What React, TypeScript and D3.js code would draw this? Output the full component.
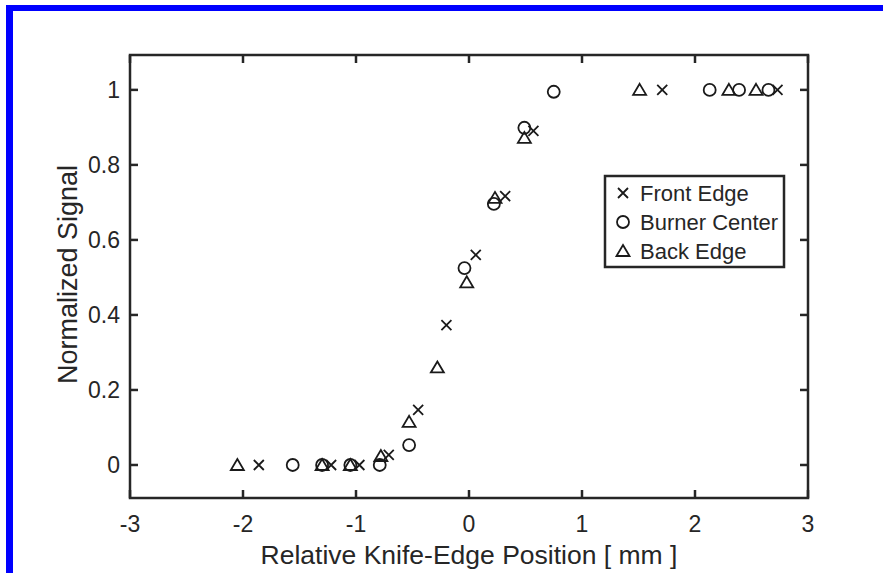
import React, { useRef, useEffect } from "react";
import * as d3 from "d3";

// values
const frontX = [-1.86, -1.22, -0.97, -0.71, -0.45, -0.2, 0.06, 0.32, 0.57, 1.71, 2.73];
const frontY = [0, 0, 0, 0.027, 0.147, 0.373, 0.56, 0.717, 0.891, 1, 1];

const burnerX = [-1.56, -1.3, -1.05, -0.79, -0.53, -0.04, 0.22, 0.49, 0.75, 2.13, 2.39, 2.65];
const burnerY = [0, 0, 0, 0, 0.053, 0.525, 0.696, 0.899, 0.995, 1, 1, 1];

const backX = [-2.05, -1.3, -1.05, -0.78, -0.53, -0.28, -0.02, 0.23, 0.49, 1.51, 2.3, 2.54];
const backY = [0, 0, 0, 0.024, 0.115, 0.26, 0.487, 0.712, 0.872, 1, 1, 1];

const xTicks = [-3, -2, -1, 0, 1, 2, 3];
const yTicks = [0, 0.2, 0.4, 0.6, 0.8, 1];
const seriesNames = ["Front Edge", "Burner Center", "Back Edge"];

const W = 883;
const H = 573;
const FONT = "'Liberation Sans', Arial, Helvetica, sans-serif";
const INK = "#262626";

const App = () => {
  const ref = useRef<SVGSVGElement | null>(null);

  useEffect(() => {
    const svg = d3.select(ref.current);
    svg.selectAll("*").remove();

    const left = 130, right = 808, top = 55, bottom = 498;
    const x = d3.scaleLinear().domain([-3, 3]).range([left, right]);
    const y = d3.scaleLinear().domain([-0.088, 1.093]).range([bottom, top]);

    svg.append("rect").attr("width", W).attr("height", H).attr("fill", "#fff");
    // blue frame (left + top)
    svg.append("rect").attr("x", 6).attr("y", 5).attr("width", 7).attr("height", H).attr("fill", "#0000ff");
    svg.append("rect").attr("x", 6).attr("y", 5).attr("width", W).attr("height", 6).attr("fill", "#0000ff");

    const tl = 8;
    const axes = svg.append("g").attr("stroke", INK).attr("stroke-width", 2.5);
    xTicks.forEach((t) => {
      axes.append("line").attr("x1", x(t)).attr("x2", x(t)).attr("y1", bottom).attr("y2", bottom - tl);
      axes.append("line").attr("x1", x(t)).attr("x2", x(t)).attr("y1", top).attr("y2", top + tl);
    });
    yTicks.forEach((t) => {
      axes.append("line").attr("y1", y(t)).attr("y2", y(t)).attr("x1", left).attr("x2", left + tl);
      axes.append("line").attr("y1", y(t)).attr("y2", y(t)).attr("x1", right).attr("x2", right - tl);
    });
    axes.append("rect")
      .attr("x", left).attr("y", top)
      .attr("width", right - left).attr("height", bottom - top)
      .attr("fill", "none");

    const txt = svg.append("g").attr("font-family", FONT).attr("fill", INK);
    txt.selectAll(".xt").data(xTicks).enter().append("text")
      .attr("x", (d) => x(d)).attr("y", 532)
      .attr("text-anchor", "middle").attr("font-size", 23)
      .text((d) => String(d));
    txt.selectAll(".yt").data(yTicks).enter().append("text")
      .attr("x", 120).attr("y", (d) => y(d)).attr("dy", "0.36em")
      .attr("text-anchor", "end").attr("font-size", 23)
      .text((d) => String(d));
    txt.append("text")
      .attr("x", (left + right) / 2).attr("y", 564)
      .attr("text-anchor", "middle").attr("font-size", 26.5)
      .text("Relative Knife-Edge Position [ mm ]");
    txt.append("text")
      .attr("transform", `translate(77, ${(top + bottom) / 2 - 2}) rotate(-90)`)
      .attr("text-anchor", "middle").attr("font-size", 27)
      .text("Normalized Signal");

    // marker shapes
    const drawMark = (g, kind, cx, cy) => {
      if (kind === 0) {
        const s = 5;
        g.append("path")
          .attr("d", `M${cx - s},${cy - s}L${cx + s},${cy + s}M${cx - s},${cy + s}L${cx + s},${cy - s}`);
      } else if (kind === 1) {
        g.append("circle").attr("cx", cx).attr("cy", cy).attr("r", 6);
      } else {
        g.append("path")
          .attr("d", `M${cx},${cy - 6}L${cx + 6.5},${cy + 5}L${cx - 6.5},${cy + 5}Z`);
      }
    };

    const marks = svg.append("g").attr("fill", "none").attr("stroke", "#1a1a1a").attr("stroke-width", 1.8);
    const series = [
      [frontX, frontY],
      [burnerX, burnerY],
      [backX, backY],
    ];
    series.forEach(([xs, ys], k) => {
      xs.forEach((v, i) => drawMark(marks, k, x(v), y(ys[i])));
    });

    // legend
    const lg = svg.append("g");
    lg.append("rect")
      .attr("x", 605).attr("y", 176).attr("width", 179).attr("height", 91)
      .attr("fill", "#fff").attr("stroke", INK).attr("stroke-width", 2.5);
    seriesNames.forEach((name, k) => {
      const cy = 193 + k * 29;
      const mg = lg.append("g").attr("fill", "none").attr("stroke", "#1a1a1a").attr("stroke-width", 1.8);
      drawMark(mg, k, 623, cy);
      lg.append("text")
        .attr("x", 640).attr("y", cy).attr("dy", "0.36em")
        .attr("font-family", FONT).attr("font-size", 22).attr("fill", INK)
        .text(name);
    });
  }, []);

  return (
    <div style={{ position: "absolute", left: 0, top: 0 }}>
      <svg ref={ref} width={W} height={H} style={{ display: "block" }}></svg>
    </div>
  );
};

export default App;
